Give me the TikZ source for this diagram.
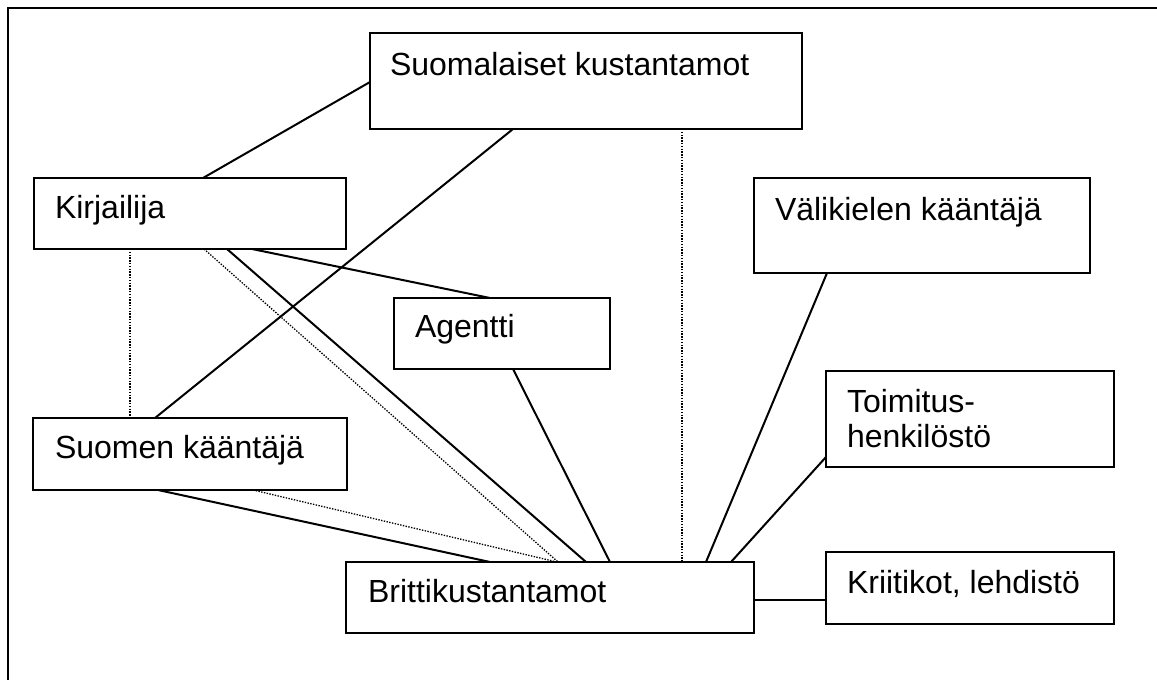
\documentclass[tikz,border=0pt]{standalone}
\usepackage{fontspec}
\setmainfont{Liberation Sans}
\usetikzlibrary{calc}
\tikzset{
  box/.style={draw=black, line width=2pt, rectangle, anchor=north west, inner sep=0pt, outer sep=0pt},
  lbl/.style={anchor=base west, inner sep=0pt, outer sep=0pt, font=\fontsize{32}{35}\selectfont, align=left},
  link/.style={draw=black, line width=2pt},
  weak/.style={draw=black, line width=1.3pt, dash pattern=on 1.4pt off 1.4pt}
}
\begin{document}
\begin{tikzpicture}[x=1pt,y=-1pt]
\useasboundingbox (0,0) rectangle (1157,680);
% outer frame (open to the right and bottom)
\coordinate (fa) at (8,680);
\coordinate (fb) at (8,8);
\coordinate (fc) at (1157,8);
\draw[line width=2pt, line join=miter] (fa) -- (fb) -- (fc);
% boxes
\node[box, minimum width=432pt, minimum height=96pt] (suo) at (370,33) {};
\node[box, minimum width=312pt, minimum height=71pt] (kir) at (34,178) {};
\node[box, minimum width=336pt, minimum height=95pt] (val) at (754,178) {};
\node[box, minimum width=216pt, minimum height=71pt] (age) at (394,298) {};
\node[box, minimum width=288pt, minimum height=96pt] (toi) at (826,371) {};
\node[box, minimum width=314pt, minimum height=72pt] (fin) at (33,418) {};
\node[box, minimum width=408pt, minimum height=71pt] (bri) at (346,562) {};
\node[box, minimum width=288pt, minimum height=72pt] (kri) at (826,552) {};
% labels
\node[lbl] (suoT) at ($(suo.north west)+(20,42)$) {Suomalaiset kustantamot};
\node[lbl] (kirT) at ($(kir.north west)+(21,40)$) {Kirjailija};
\node[lbl] (valT) at ($(val.north west)+(21,42)$) {Välikielen kääntäjä};
\node[lbl] (ageT) at ($(age.north west)+(21,39)$) {Agentti};
\node[lbl] (toiT) at ($(toi.north west)+(21,76)$) {Toimitus-\\henkilöstö};
\node[lbl] (finT) at ($(fin.north west)+(22,40)$) {Suomen kääntäjä};
\node[lbl] (briT) at ($(bri.north west)+(22,40)$) {Brittikustantamot};
\node[lbl] (kriT) at ($(kri.north west)+(21,41)$) {Kriitikot, lehdistö};
% connectors
\draw[link] ($(kir.north west)+(169,0)$) -- ($(suo.north west)+(0,49)$);
\draw[link] ($(suo.south west)+(143,0)$) -- ($(fin.north west)+(122,0)$);
\draw[weak] ($(suo.south west)+(312,0)$) -- ($(bri.north west)+(336,0)$);
\draw[weak] ($(kir.south west)+(96,0)$) -- ($(fin.north west)+(97,0)$);
\draw[weak] ($(kir.south west)+(170,0)$) -- ($(bri.north west)+(212,0)$);
\draw[link] ($(kir.south west)+(193,0)$) -- ($(bri.north west)+(240,0)$);
\draw[link] ($(kir.south west)+(218,0)$) -- ($(age.north west)+(96,0)$);
\draw[link] ($(age.south west)+(119,0)$) -- ($(bri.north west)+(264,0)$);
\draw[link] ($(fin.south west)+(125,0)$) -- ($(bri.north west)+(144,0)$);
\draw[weak] ($(fin.south west)+(220,0)$) -- ($(bri.north west)+(211,0)$);
\draw[link] ($(val.south west)+(73,0)$) -- ($(bri.north west)+(360,0)$);
\draw[link] ($(toi.north west)+(0,86)$) -- ($(bri.north west)+(385,0)$);
\draw[link] ($(bri.north east)+(0,38)$) -- ($(kri.north west)+(0,48)$);
\end{tikzpicture}
\end{document}
